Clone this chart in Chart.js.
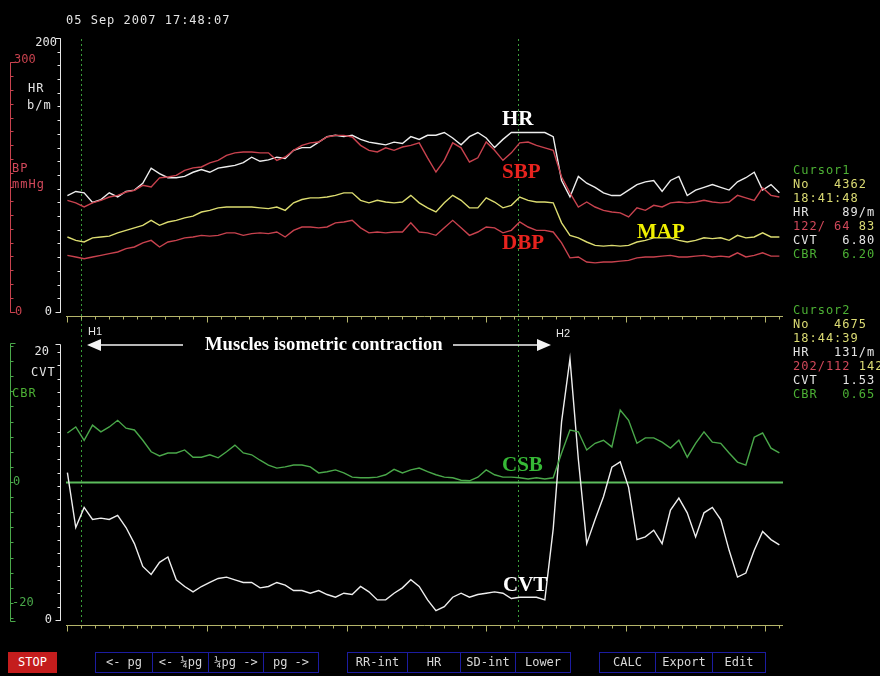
<!DOCTYPE html>
<html>
<head>
<meta charset="utf-8">
<script src="https://cdn.jsdelivr.net/npm/chart.js@4.4.0/dist/chart.umd.min.js"></script>
<style>
  html, body { margin: 0; padding: 0; background: #000; }
  #screen { position: relative; width: 880px; height: 676px; background: #000; overflow: hidden;
            font-family: "DejaVu Sans Mono", monospace; }
  canvas { position: absolute; left: 0; }
  .t { position: absolute; font-size: 12px; letter-spacing: 1px; line-height: 14px; white-space: pre; }
  .lab { position: absolute; font-family: "Liberation Serif", serif; font-weight: bold; line-height: 1; white-space: pre; }
  .h { position: absolute; font-family: "Liberation Sans", sans-serif; font-size: 11px; color: #e8e8e8; line-height: 12px; }
  .btn { position: absolute; top: 652px; height: 19px; line-height: 19px; font-size: 12px; color: #d8d8d8;
         text-align: center; border: 1px solid #1c1ca0; box-sizing: content-box; white-space: pre; }
  .g { color: #4cb034; } .y { color: #dcdc74; } .w { color: #e4e4e4; } .r { color: #d0485a; }
  svg { position: absolute; left: 0; top: 0; }
</style>
</head>
<body>
<div id="screen">
  <canvas id="topChart" width="880" height="330" style="top:0"></canvas>
  <canvas id="botChart" width="880" height="310" style="top:330px"></canvas>

  <div class="t w" style="left:66px;top:13px">05 Sep 2007 17:48:07</div>

  <div class="t w" style="left:28px;top:81px">HR</div>
  <div class="t w" style="left:27px;top:98px">b/m</div>
  <div class="t r" style="left:12px;top:161px">BP</div>
  <div class="t r" style="left:12px;top:177px">mmHg</div>
  <div class="t w" style="left:31px;top:365px">CVT</div>
  <div class="t g" style="left:12px;top:386px">CBR</div>

  <div class="t" style="left:793px;top:163px"><span class="g">Cursor1</span>
<span class="y">No   4362</span>
<span class="y">18:41:48</span>
<span class="w">HR    89/m</span>
<span class="r">122/ 64</span> <span class="y">83</span>
<span class="w">CVT   6.80</span>
<span class="g">CBR   6.20</span></div>

  <div class="t" style="left:793px;top:303px"><span class="g">Cursor2</span>
<span class="y">No   4675</span>
<span class="y">18:44:39</span>
<span class="w">HR   131/m</span>
<span class="r">202/112</span> <span class="y">142</span>
<span class="w">CVT   1.53</span>
<span class="g">CBR   0.65</span></div>

  <div class="lab" style="left:502px;top:108px;font-size:21px;color:#ffffff">HR</div>
  <div class="lab" style="left:502px;top:161px;font-size:21px;color:#e8231e">SBP</div>
  <div class="lab" style="left:502px;top:232px;font-size:21px;color:#e8231e">DBP</div>
  <div class="lab" style="left:637px;top:221px;font-size:21px;color:#f0f000">MAP</div>
  <div class="lab" style="left:502px;top:454px;font-size:21px;color:#36b936">CSB</div>
  <div class="lab" style="left:503px;top:574px;font-size:21px;color:#ffffff">CVT</div>
  <div class="lab" style="left:205px;top:335px;font-size:18.6px;color:#ffffff">Muscles isometric contraction</div>
  <div class="h" style="left:88px;top:325px">H1</div>
  <div class="h" style="left:556px;top:327px">H2</div>

  <svg width="880" height="676">
    <line x1="183" y1="345" x2="100" y2="345" stroke="#f4f4f4" stroke-width="1.5"/>
    <polygon points="87,345 101,339 101,351" fill="#f4f4f4"/>
    <line x1="453" y1="345" x2="537" y2="345" stroke="#f4f4f4" stroke-width="1.5"/>
    <polygon points="551,345 537,339 537,351" fill="#f4f4f4"/>
  </svg>

  <div class="btn" style="left:8px;width:47px;background:#c41d1d;border-color:#c41d1d;color:#fff">STOP</div>
  <div class="btn" style="left:95px;width:56px">&lt;- pg</div>
  <div class="btn" style="left:152px;width:55px">&lt;- ¼pg</div>
  <div class="btn" style="left:208px;width:54px">¼pg -&gt;</div>
  <div class="btn" style="left:263px;width:54px">pg -&gt;</div>
  <div class="btn" style="left:347px;width:59px">RR-int</div>
  <div class="btn" style="left:407px;width:52px">HR</div>
  <div class="btn" style="left:460px;width:54px">SD-int</div>
  <div class="btn" style="left:515px;width:54px">Lower</div>
  <div class="btn" style="left:599px;width:55px">CALC</div>
  <div class="btn" style="left:655px;width:56px">Export</div>
  <div class="btn" style="left:712px;width:52px">Edit</div>
</div>

<script>
// sample numbers (x) shared by every trace
const sampleNo = [
  4352, 4358, 4364, 4370, 4376, 4382, 4388, 4394, 4400, 4406,
  4412, 4418, 4424, 4430, 4436, 4442, 4448, 4454, 4460, 4466,
  4472, 4478, 4484, 4490, 4496, 4502, 4508, 4514, 4520, 4526,
  4532, 4538, 4544, 4550, 4556, 4562, 4568, 4574, 4580, 4586,
  4592, 4598, 4604, 4610, 4616, 4622, 4628, 4634, 4640, 4646,
  4652, 4658, 4664, 4670, 4676, 4682, 4688, 4694, 4700, 4706,
  4712, 4718, 4724, 4730, 4736, 4742, 4748, 4754, 4760, 4766,
  4772, 4778, 4784, 4790, 4796, 4802, 4808, 4814, 4820, 4826,
  4832, 4838, 4844, 4850, 4856, 4862
];

// heart rate, b/m
const hrBpm = [
  85, 88, 87, 80, 82, 87, 84, 88, 89, 94,
  105, 101, 98, 98, 99, 102, 104, 102, 105, 106,
  107, 109, 113, 110, 111, 113, 112, 118, 120, 120,
  124, 128, 129, 128, 129, 126, 124, 123, 122, 124,
  123, 128, 126, 129, 129, 131, 127, 122, 128, 131,
  127, 120, 126, 131, 131, 131, 131, 131, 128, 96,
  84, 99, 94, 91, 87, 85, 85, 89, 93, 95,
  96, 88, 96, 99, 85, 89, 91, 93, 91, 89,
  95, 98, 102, 89, 93, 87
];

// blood pressure, mmHg
const sbpMmHg = [
  134, 131, 126, 131, 134, 138, 140, 144, 146, 152,
  150, 161, 162, 164, 170, 173, 174, 179, 182, 188,
  191, 192, 192, 191, 191, 182, 186, 194, 200, 203,
  204, 210, 212, 212, 210, 200, 194, 192, 197, 194,
  198, 200, 203, 185, 168, 182, 203, 197, 180, 185,
  204, 194, 182, 191, 203, 204, 200, 197, 194, 162,
  143, 126, 132, 126, 122, 120, 119, 114, 125, 122,
  128, 126, 131, 132, 131, 132, 134, 132, 131, 132,
  140, 137, 134, 149, 140, 138
];
const mapMmHg = [
  90, 86, 84, 89, 90, 91, 95, 98, 101, 104,
  110, 104, 108, 110, 113, 115, 120, 122, 125, 126,
  126, 126, 126, 125, 124, 126, 122, 131, 135, 137,
  137, 138, 140, 143, 143, 134, 131, 134, 132, 131,
  132, 140, 131, 125, 120, 131, 140, 134, 125, 125,
  137, 132, 125, 128, 138, 134, 132, 132, 131, 107,
  92, 89, 84, 80, 79, 80, 79, 80, 84, 86,
  89, 89, 89, 86, 84, 86, 89, 88, 89, 86,
  92, 89, 90, 95, 90, 90
];
const dbpMmHg = [
  68, 66, 64, 66, 68, 70, 72, 76, 78, 83,
  86, 78, 84, 86, 89, 90, 92, 91, 92, 95,
  95, 92, 94, 95, 94, 96, 90, 98, 102, 102,
  101, 102, 107, 108, 110, 101, 95, 96, 95, 96,
  96, 107, 96, 95, 92, 101, 110, 101, 92, 96,
  102, 101, 95, 98, 108, 102, 98, 98, 96, 83,
  65, 66, 60, 59, 60, 60, 61, 62, 65, 66,
  66, 67, 68, 66, 66, 67, 68, 66, 67, 66,
  71, 66, 68, 71, 67, 67
];

// lower panel
const cbrValues = [
  8.1, 9.1, 6.9, 9.4, 8.3, 9.1, 10.2, 8.9, 8.6, 6.9,
  5.0, 4.3, 4.8, 4.8, 5.3, 4.1, 4.1, 4.5, 4.0, 5.0,
  6.1, 4.8, 4.5, 3.6, 2.8, 2.3, 2.5, 2.8, 2.8, 2.5,
  1.5, 1.7, 2.0, 1.5, 0.8, 0.7, 0.7, 0.8, 1.2, 2.1,
  1.5, 2.0, 2.3, 1.7, 1.2, 0.8, 0.7, 0.3, 0.2, 0.8,
  2.0, 1.2, 0.8, 0.8, 0.7, 0.5, 0.7, 0.5, 0.7, 4.8,
  8.6, 8.3, 5.3, 6.4, 6.9, 5.8, 11.9, 10.2, 6.4, 7.3,
  7.3, 6.6, 5.6, 6.9, 4.1, 6.4, 8.3, 6.6, 6.4, 4.8,
  3.3, 2.8, 7.4, 8.1, 5.6, 4.8
];
const cvtValues = [
  11.0, 6.9, 8.4, 7.5, 7.6, 7.5, 7.8, 6.9, 5.7, 4.0,
  3.4, 4.3, 4.7, 3.0, 2.5, 2.1, 2.5, 2.8, 3.1, 3.2,
  3.0, 2.8, 2.8, 2.4, 2.5, 2.8, 2.6, 2.2, 2.2, 2.0,
  2.2, 1.9, 1.7, 2.0, 1.9, 2.5, 2.1, 1.5, 1.5, 2.0,
  2.4, 3.0, 2.5, 1.5, 0.7, 1.0, 1.7, 2.0, 1.7, 1.9,
  2.0, 2.1, 2.0, 1.6, 1.7, 1.7, 1.7, 1.5, 6.8, 14.8,
  19.5, 12.0, 5.7, 7.5, 9.2, 11.4, 11.8, 9.9, 6.0, 6.2,
  6.7, 5.7, 8.2, 9.1, 8.0, 6.2, 8.0, 8.4, 7.5, 5.2,
  3.2, 3.5, 5.2, 6.6, 6.0, 5.6
];

const cursorSamples = [4362, 4675];
const xTickStart = 4352;

const WHITE = '#eeeeee', RED = '#c8424e', YELLOW = '#dcdc70', GREEN = '#4aa84a';
const OLIVE = '#b4b46a', CURSOR = '#3a9c3a';

function series(values) {
  return sampleNo.map((n, i) => ({ x: n, y: values[i] }));
}

// draws the monitor style axes, cursor lines and the zero line
const monitorAxes = {
  id: 'monitorAxes',
  beforeDatasetsDraw(chart, args, opts) {
    const ctx = chart.ctx, area = chart.chartArea, xs = chart.scales.x;
    ctx.save();
    if (opts.zero) {
      const y = Math.round(chart.scales[opts.zero.id].getPixelForValue(0)) + 0.5;
      ctx.strokeStyle = opts.zero.color;
      ctx.lineWidth = 2;
      ctx.beginPath(); ctx.moveTo(area.left, y); ctx.lineTo(area.right, y); ctx.stroke();
    }
    ctx.strokeStyle = CURSOR;
    ctx.lineWidth = 1;
    ctx.setLineDash([2, 3]);
    cursorSamples.forEach(n => {
      const x = Math.round(xs.getPixelForValue(n)) + 0.5;
      ctx.beginPath();
      ctx.moveTo(x, area.top + opts.cursorTop);
      ctx.lineTo(x, area.bottom + opts.cursorBottom);
      ctx.stroke();
    });
    ctx.restore();
  },
  afterDraw(chart, args, opts) {
    const ctx = chart.ctx, area = chart.chartArea, xs = chart.scales.x;
    ctx.save();
    ctx.lineWidth = 1;

    const yb = Math.round(area.bottom) + 0.5;
    ctx.strokeStyle = OLIVE;
    ctx.beginPath();
    ctx.moveTo(area.left, yb); ctx.lineTo(area.right, yb);
    for (let n = xTickStart; n <= xs.max; n += 10) {
      const x = Math.round(xs.getPixelForValue(n)) + 0.5;
      const major = (n - xTickStart) % 100 === 0;
      ctx.moveTo(x, yb); ctx.lineTo(x, yb + (major ? 6 : 3));
    }
    ctx.stroke();

    ctx.font = '12px "DejaVu Sans Mono", monospace';
    ctx.textBaseline = 'middle';
    opts.yAxes.forEach(a => {
      const s = chart.scales[a.id];
      const x = a.x + 0.5;
      const yTop = Math.round(s.getPixelForValue(a.to)) + 0.5;
      const yBot = Math.round(s.getPixelForValue(a.from)) + 0.5;
      ctx.strokeStyle = a.color;
      ctx.fillStyle = a.color;
      ctx.beginPath();
      ctx.moveTo(x, yTop); ctx.lineTo(x, yBot);
      ctx.moveTo(x, yTop); ctx.lineTo(x + a.dir * (a.len + 2), yTop);
      ctx.moveTo(x, yBot); ctx.lineTo(x + a.dir * (a.len + 2), yBot);
      for (let v = a.first; v <= a.to + 1e-6; v += a.step) {
        const y = Math.round(s.getPixelForValue(v)) + 0.5;
        ctx.moveTo(x, y); ctx.lineTo(x + a.dir * a.len, y);
      }
      ctx.stroke();
      a.labels.forEach(l => {
        ctx.textAlign = l.align;
        ctx.fillText(l.text, l.x, s.getPixelForValue(l.v) + (l.dy || 0));
      });
    });
    ctx.restore();
  }
};

const commonOptions = (padding, scales, axesOpts) => ({
  responsive: false,
  animation: false,
  layout: { padding },
  elements: { point: { radius: 0 }, line: { borderWidth: 1.4, tension: 0 } },
  scales,
  plugins: { legend: { display: false }, tooltip: { enabled: false }, monitorAxes: axesOpts }
});

new Chart(document.getElementById('topChart'), {
  type: 'line',
  data: {
    datasets: [
      { label: 'DBP', data: series(dbpMmHg), yAxisID: 'yBP', borderColor: RED },
      { label: 'MAP', data: series(mapMmHg), yAxisID: 'yBP', borderColor: YELLOW },
      { label: 'SBP', data: series(sbpMmHg), yAxisID: 'yBP', borderColor: RED },
      { label: 'HR', data: series(hrBpm), yAxisID: 'yHR', borderColor: WHITE }
    ]
  },
  options: commonOptions(
    { left: 66, right: 97, top: 37, bottom: 14 },
    {
      x: { type: 'linear', min: 4351, max: 4864.6, display: false },
      yHR: { min: -2.92, max: 200.73, display: false },
      yBP: { min: -4.8, max: 330, display: false }
    },
    {
      cursorTop: 2, cursorBottom: 14,
      yAxes: [
        { id: 'yHR', x: 60, dir: -1, len: 3, color: '#e6e6e6', from: 0, to: 200, first: 0, step: 10,
          labels: [{ v: 200, text: '200', x: 57, align: 'right', dy: 5 }, { v: 0, text: '0', x: 52, align: 'right' }] },
        { id: 'yBP', x: 10, dir: 1, len: 3, color: '#c8424e', from: 0, to: 300, first: 0, step: 300 / 18,
          labels: [{ v: 300, text: '300', x: 14, align: 'left', dy: -2 }, { v: 0, text: '0', x: 15, align: 'left' }] }
      ]
    }
  ),
  plugins: [monitorAxes]
});

new Chart(document.getElementById('botChart'), {
  type: 'line',
  data: {
    datasets: [
      { label: 'CBR', data: series(cbrValues), yAxisID: 'yCBR', borderColor: GREEN },
      { label: 'CVT', data: series(cvtValues), yAxisID: 'yCVT', borderColor: WHITE }
    ]
  },
  options: commonOptions(
    { left: 66, right: 97, top: 13, bottom: 15 },
    {
      x: { type: 'linear', min: 4351, max: 4864.6, display: false },
      yCVT: { min: -0.373, max: 20.67, display: false },
      yCBR: { min: -23.64, max: 22.98, display: false }
    },
    {
      cursorTop: -13, cursorBottom: 0,
      zero: { id: 'yCBR', color: '#5cbc5c' },
      yAxes: [
        { id: 'yCVT', x: 60, dir: -1, len: 3, color: '#e6e6e6', from: 0, to: 20.6, first: 0, step: 1,
          labels: [{ v: 20, text: '20', x: 49, align: 'right' }, { v: 0, text: '0', x: 52, align: 'right' }] },
        { id: 'yCBR', x: 10, dir: 1, len: 3, color: '#4aa84a', from: -23, to: 23, first: -22.5, step: 2.5,
          labels: [{ v: 0, text: '0', x: 13, align: 'left' }, { v: -20, text: '-20', x: 12, align: 'left' }] }
      ]
    }
  ),
  plugins: [monitorAxes]
});
</script>
</body>
</html>
